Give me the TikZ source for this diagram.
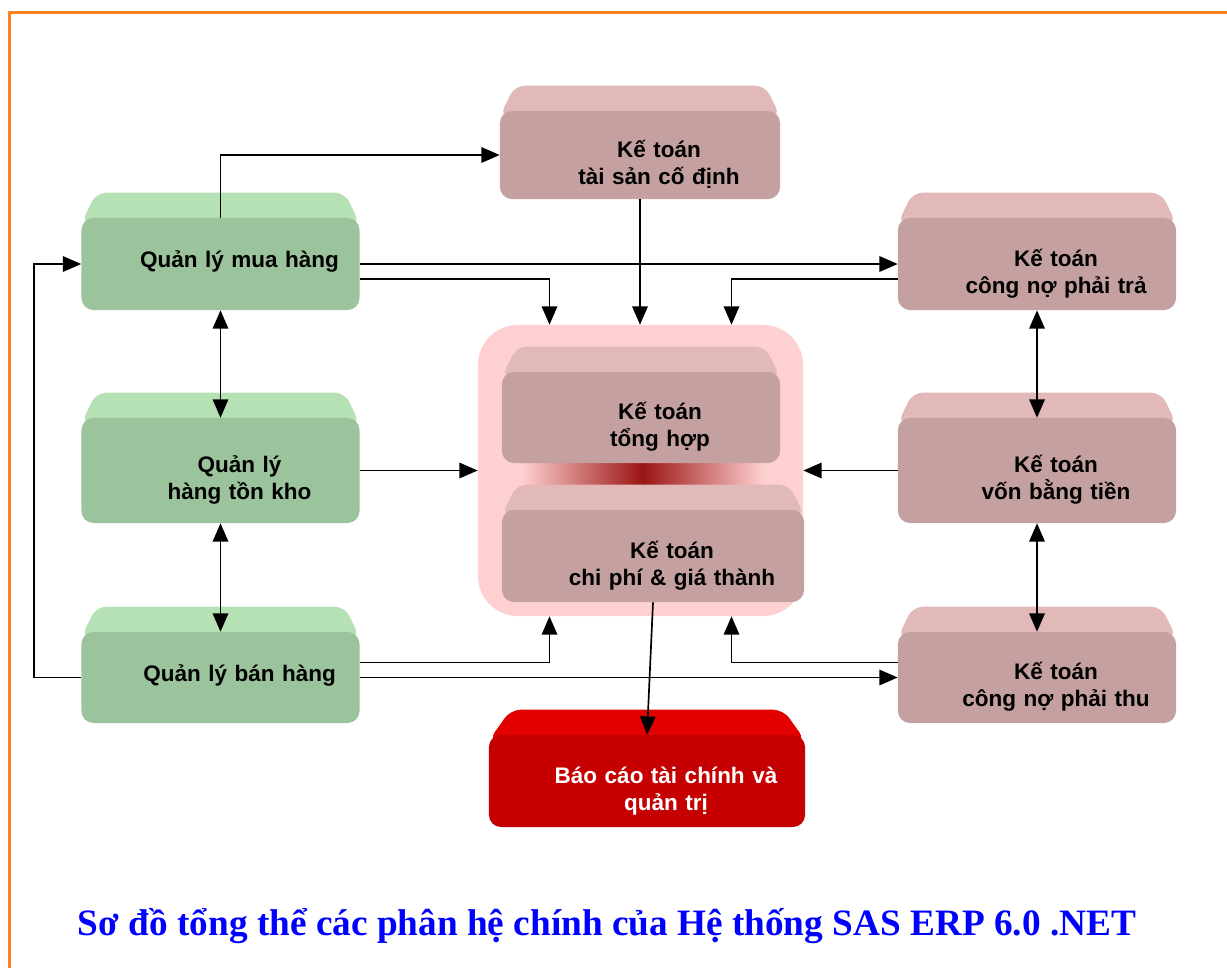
\documentclass[tikz,border=0pt]{standalone}
\usepackage{fontspec}
\setmainfont{Liberation Sans}
\newfontfamily\titlefont{Liberation Serif}
\usepackage{xcolor}
\usepackage{tikz}
\usetikzlibrary{arrows.meta, calc}
\pgfdeclarelayer{bg}
\pgfsetlayers{bg,main}
\definecolor{greenfront}{RGB}{156,196,156}
\definecolor{greentop}{RGB}{181,225,181}
\definecolor{pinkfront}{RGB}{196,160,160}
\definecolor{pinktop}{RGB}{225,185,185}
\definecolor{redfront}{RGB}{198,0,0}
\definecolor{redtop}{RGB}{226,0,0}
\definecolor{corepink}{RGB}{255,208,208}
\definecolor{glowred}{RGB}{155,20,20}
\definecolor{frameorange}{RGB}{255,128,32}
\definecolor{titleblue}{RGB}{0,0,255}
\pgfdeclarehorizontalshading{gapglow}{100bp}{color(0bp)=(corepink); color(25bp)=(corepink); color(28bp)=(corepink); color(50bp)=(glowred); color(72bp)=(corepink); color(75bp)=(corepink); color(100bp)=(corepink)}
\tikzstyle{module} = [rectangle, rounded corners=0.3cm, inner sep=2pt, minimum width=6.95cm, minimum height=2.3cm, text width=6.6cm, align=center, font=\bfseries\fontsize{16}{19.2}\selectfont, text height=14pt, text depth=10.8pt, execute at begin node={\leftskip=0.95cm plus 1fil\rightskip=0pt plus 1fil\parfillskip=0pt}]
\tikzstyle{single} = [text height=12pt, text depth=6.4pt]
\tikzstyle{tall} = [minimum height=2.625cm]
\tikzstyle{greenmod} = [module, fill=greenfront]
\tikzstyle{pinkmod} = [module, fill=pinkfront]
\tikzstyle{redmod} = [module, fill=redfront, text=white]
\tikzstyle{corebg} = [rectangle, rounded corners=1cm, fill=corepink, minimum width=8.125cm, minimum height=7.275cm]
\tikzstyle{arrow} = [line width=1.2pt, -{Triangle[length=13pt,width=11pt]}]
\tikzstyle{dblarrow} = [line width=1.2pt, {Triangle[length=13pt,width=11pt]}-{Triangle[length=13pt,width=11pt]}]
\begin{document}
\begin{tikzpicture}[x=0.025cm, y=-0.025cm]
\useasboundingbox (0,0) rectangle (1227,967);
\draw[frameorange, line width=1.8pt] (9.5,12.5) rectangle (1260,1000);

% left column
\node (mua) [greenmod, single] at (220.5,264) {Quản lý mua hàng};
\node (kho) [greenmod, tall] at (220.5,470.5) {Quản lý\\hàng tồn kho};
\node (ban) [greenmod, single, minimum height=2.275cm] at (220.5,677.5) {Quản lý bán hàng};

% right column
\node (phaitra) [pinkmod] at (1037,264) {Kế toán\\công nợ phải trả};
\node (von) [pinkmod, tall] at (1037,470.5) {Kế toán\\vốn bằng tiền};
\node (phaithu) [pinkmod, minimum height=2.275cm] at (1037,677.5) {Kế toán\\công nợ phải thu};

% middle
\node (tsc) [pinkmod, minimum width=7cm, minimum height=2.2cm] at (640,155) {Kế toán\\tài sản cố định};
\node (tonghop) [pinkmod, minimum height=2.275cm] at (641,417.5) {Kế toán\\tổng hợp};
\node (chiphi) [pinkmod, minimum width=7.55cm] at (653,556) {Kế toán\\chi phí \& giá thành};
\node (baocao) [redmod, minimum width=7.9cm] at (647,781) {Báo cáo tài chính và\\quản trị};

\node (title) [font=\titlefont\bfseries\fontsize{26.5}{32}\selectfont, text=titleblue] at (607,926) {Sơ đồ tổng thể các phân hệ chính của Hệ thống SAS ERP 6.0 .NET};

% backs and top faces
\begin{pgfonlayer}{bg}
  \node (core) [corebg] at (640.5,470.5) {};
  \shade[shading=gapglow] (505,460) rectangle (780,492);
  \foreach \n in {mua,kho,ban}
    \fill[greentop, rounded corners=0.25cm] ($(\n.north west)+(0,6)$) -- ($(\n.north west)+(15,-25)$) -- ($(\n.north east)+(-15,-25)$) -- ($(\n.north east)+(0,6)$) -- cycle;
  \foreach \n in {phaitra,von,phaithu,tsc,tonghop,chiphi}
    \fill[pinktop, rounded corners=0.25cm] ($(\n.north west)+(0,6)$) -- ($(\n.north west)+(15,-25)$) -- ($(\n.north east)+(-15,-25)$) -- ($(\n.north east)+(0,6)$) -- cycle;
  \fill[redtop, rounded corners=0.25cm] ($(baocao.north west)+(0,6)$) -- ($(baocao.north west)+(22,-25)$) -- ($(baocao.north east)+(-22,-25)$) -- ($(baocao.north east)+(0,6)$) -- cycle;
\end{pgfonlayer}

% connectors
\draw [arrow] (mua.north) |- (tsc.west);
\draw [arrow] (mua.east) -- (phaitra.west);
\draw [arrow] ($(mua.east)+(0,15)$) -| ($(core.north)+(-91,0)$);
\draw [arrow] (tsc.south) -- (tsc.south |- core.north);
\draw [arrow] ($(phaitra.west)+(0,15)$) -| ($(core.north)+(91,0)$);
\draw [arrow] (kho.east) -- (core.west);
\draw [arrow] (von.west) -- (core.east);
\draw [arrow] ($(ban.east)+(0,-15)$) -| ($(core.south)+(-91,0)$);
\draw [arrow] ($(phaithu.west)+(0,-15)$) -| ($(core.south)+(91,0)$);
\draw [arrow] (ban.east) -- (phaithu.west);
\draw [arrow] (ban.west) -- ++(-47,0) |- (mua.west);
\draw [arrow] (chiphi.south) -- (baocao.north);
\draw [dblarrow] (mua.south) -- (kho.north);
\draw [dblarrow] (kho.south) -- (ban.north);
\draw [dblarrow] (phaitra.south) -- (von.north);
\draw [dblarrow] (von.south) -- (phaithu.north);

\end{tikzpicture}
\end{document}
